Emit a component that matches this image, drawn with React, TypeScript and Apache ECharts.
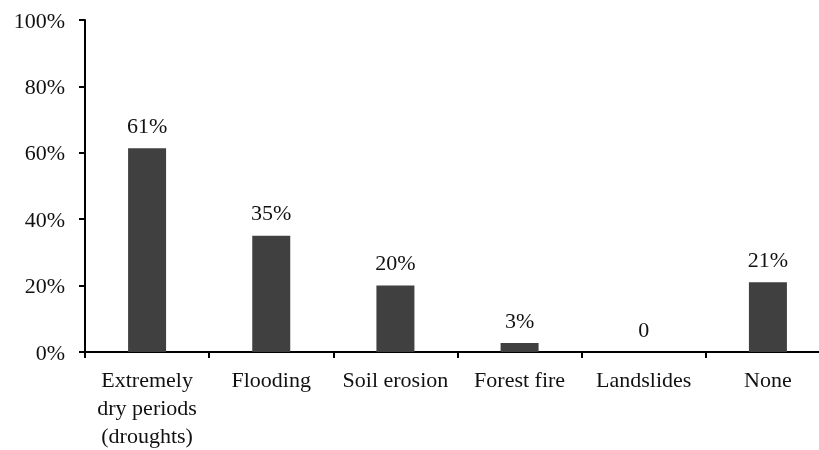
import React, { useEffect, useRef } from "react";
import * as echarts from "echarts";

const categories = [
  "Extremely\ndry periods\n(droughts)",
  "Flooding",
  "Soil erosion",
  "Forest fire",
  "Landslides",
  "None",
];
const values = [61.4, 35, 20, 2.7, 0, 21];
const valueLabels = ["61%", "35%", "20%", "3%", "0", "21%"];
const yTicks = [0, 20, 40, 60, 80, 100];

export default function App() {
  const ref = useRef<HTMLDivElement>(null);
  useEffect(() => {
    const chart = echarts.init(ref.current!, null, { renderer: "svg" });
    const font = "'Liberation Serif', 'Times New Roman', serif";
    chart.setOption({
      animation: false,
      grid: {
        left: 85,
        top: 20,
        height: 332,
        width: 745,
        outerBoundsMode: "none",
        containLabel: false,
      },
      xAxis: {
        type: "category",
        data: categories,
        axisLine: { lineStyle: { color: "#000", width: 2 } },
        axisTick: { show: true, length: 6, lineStyle: { color: "#000", width: 2 } },
        axisLabel: {
          color: "#111",
          fontFamily: font,
          fontSize: 22,
          lineHeight: 28,
          margin: 13,
          interval: 0,
        },
      },
      yAxis: {
        type: "value",
        min: yTicks[0],
        max: yTicks[yTicks.length - 1],
        interval: 20,
        splitLine: { show: false },
        axisLine: { show: true, lineStyle: { color: "#000", width: 2 } },
        axisTick: { show: true, length: 6, lineStyle: { color: "#000", width: 2 } },
        axisLabel: {
          color: "#111",
          fontFamily: font,
          fontSize: 22,
          margin: 20,
          formatter: (v: number) => v + "%",
        },
      },
      series: [
        {
          type: "bar",
          data: values,
          barWidth: 38,
          itemStyle: { color: "#404040" },
          label: {
            show: true,
            position: "top",
            distance: 12,
            color: "#111",
            fontFamily: font,
            fontSize: 22,
            formatter: (p: any) => valueLabels[p.dataIndex],
          },
        },
      ],
    });
    return () => chart.dispose();
  }, []);
  return (
    <div
      ref={ref}
      style={{ position: "fixed", left: 0, top: 0, width: 819, height: 450 }}
    />
  );
}
